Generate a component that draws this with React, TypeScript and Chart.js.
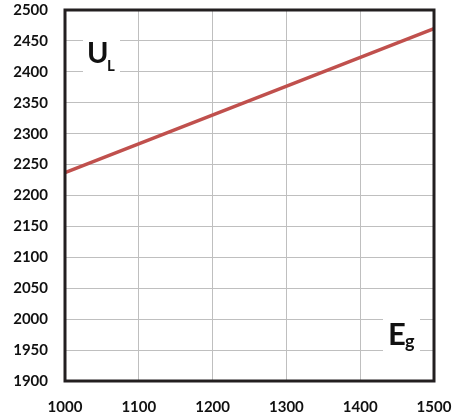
import React, { useEffect, useRef } from "react";
import { Chart, registerables } from "chart.js";

Chart.register(...registerables);

const xValues = [1000, 1500];
const yValues = [2237, 2470];
const xTicks = [1000, 1100, 1200, 1300, 1400, 1500];
const yTicks = [1900, 1950, 2000, 2050, 2100, 2150, 2200, 2250, 2300, 2350, 2400, 2450, 2500];
const yLabel = { main: "U", sub: "L" };
const xLabel = { main: "E", sub: "g" };

const FONT = "Lato, 'Open Sans', sans-serif";

const overlay = {
  id: "overlay",
  afterDatasetsDraw(chart: any) {
    const { ctx, chartArea } = chart;
    const { left, right, top, bottom } = chartArea;
    ctx.save();
    ctx.textBaseline = "alphabetic";
    ctx.textAlign = "left";
    // U_L
    ctx.fillStyle = "#ffffff";
    ctx.fillRect(left + 18, top + 20, 37, 55);
    ctx.fillStyle = "#111111";
    ctx.font = `bold 29px ${FONT}`;
    ctx.fillText(yLabel.main, left + 22, top + 53);
    ctx.font = `bold 15px ${FONT}`;
    ctx.fillText(yLabel.sub, left + 42, top + 61);
    // E_g
    ctx.fillStyle = "#ffffff";
    ctx.fillRect(right - 51, bottom - 71, 37, 52);
    ctx.fillStyle = "#111111";
    ctx.font = `bold 31px ${FONT}`;
    ctx.fillText(xLabel.main, right - 46, bottom - 36);
    ctx.font = `bold 18px ${FONT}`;
    ctx.fillText(xLabel.sub, right - 29, bottom - 33);
    // frame
    ctx.strokeStyle = "#231f20";
    ctx.lineWidth = 3;
    ctx.strokeRect(left, top, right - left, bottom - top);
    ctx.restore();
  },
};

export default function App() {
  const ref = useRef<HTMLCanvasElement>(null);
  useEffect(() => {
    if (!ref.current) return;
    const chart = new Chart(ref.current, {
      type: "line",
      data: {
        datasets: [
          {
            data: xValues.map((x, i) => ({ x, y: yValues[i] })),
            borderColor: "#c0504d",
            borderWidth: 3.5,
            pointRadius: 0,
            fill: false,
          },
        ],
      },
      options: {
        animation: false,
        responsive: false,
        maintainAspectRatio: false,
        layout: { padding: { top: 10, right: 18, left: 0, bottom: 0 } },
        plugins: { legend: { display: false }, tooltip: { enabled: false } },
        scales: {
          x: {
            type: "linear",
            min: 1000,
            max: 1500,
            afterBuildTicks: (s: any) => {
              s.ticks = xTicks.map((v) => ({ value: v }));
            },
            afterFit: (s: any) => {
              s.height = 35;
              s.paddingLeft = 0;
              s.paddingRight = 0;
            },
            grid: { color: "#bfbfbf", lineWidth: 1, drawTicks: false },
            border: { display: false },
            ticks: {
              color: "#111111",
              font: { family: FONT, weight: "bold", size: 15 },
              padding: 17,
              maxRotation: 0,
              callback: (v: any) => String(v),
            },
          },
          y: {
            type: "linear",
            min: 1900,
            max: 2500,
            afterBuildTicks: (s: any) => {
              s.ticks = yTicks.map((v) => ({ value: v }));
            },
            afterFit: (s: any) => {
              s.width = 65;
              s.paddingTop = 0;
              s.paddingBottom = 0;
            },
            grid: { color: "#bfbfbf", lineWidth: 1, drawTicks: false },
            border: { display: false },
            ticks: {
              color: "#111111",
              font: { family: FONT, weight: "bold", size: 15 },
              padding: 17,
              callback: (v: any) => String(v),
            },
          },
        },
      },
      plugins: [overlay],
    });
    return () => chart.destroy();
  }, []);
  return (
    <div style={{ position: "absolute", left: 0, top: 0, width: 452, height: 416, background: "#fff" }}>
      <canvas ref={ref} width={452} height={416} style={{ width: 452, height: 416 }} />
    </div>
  );
}
